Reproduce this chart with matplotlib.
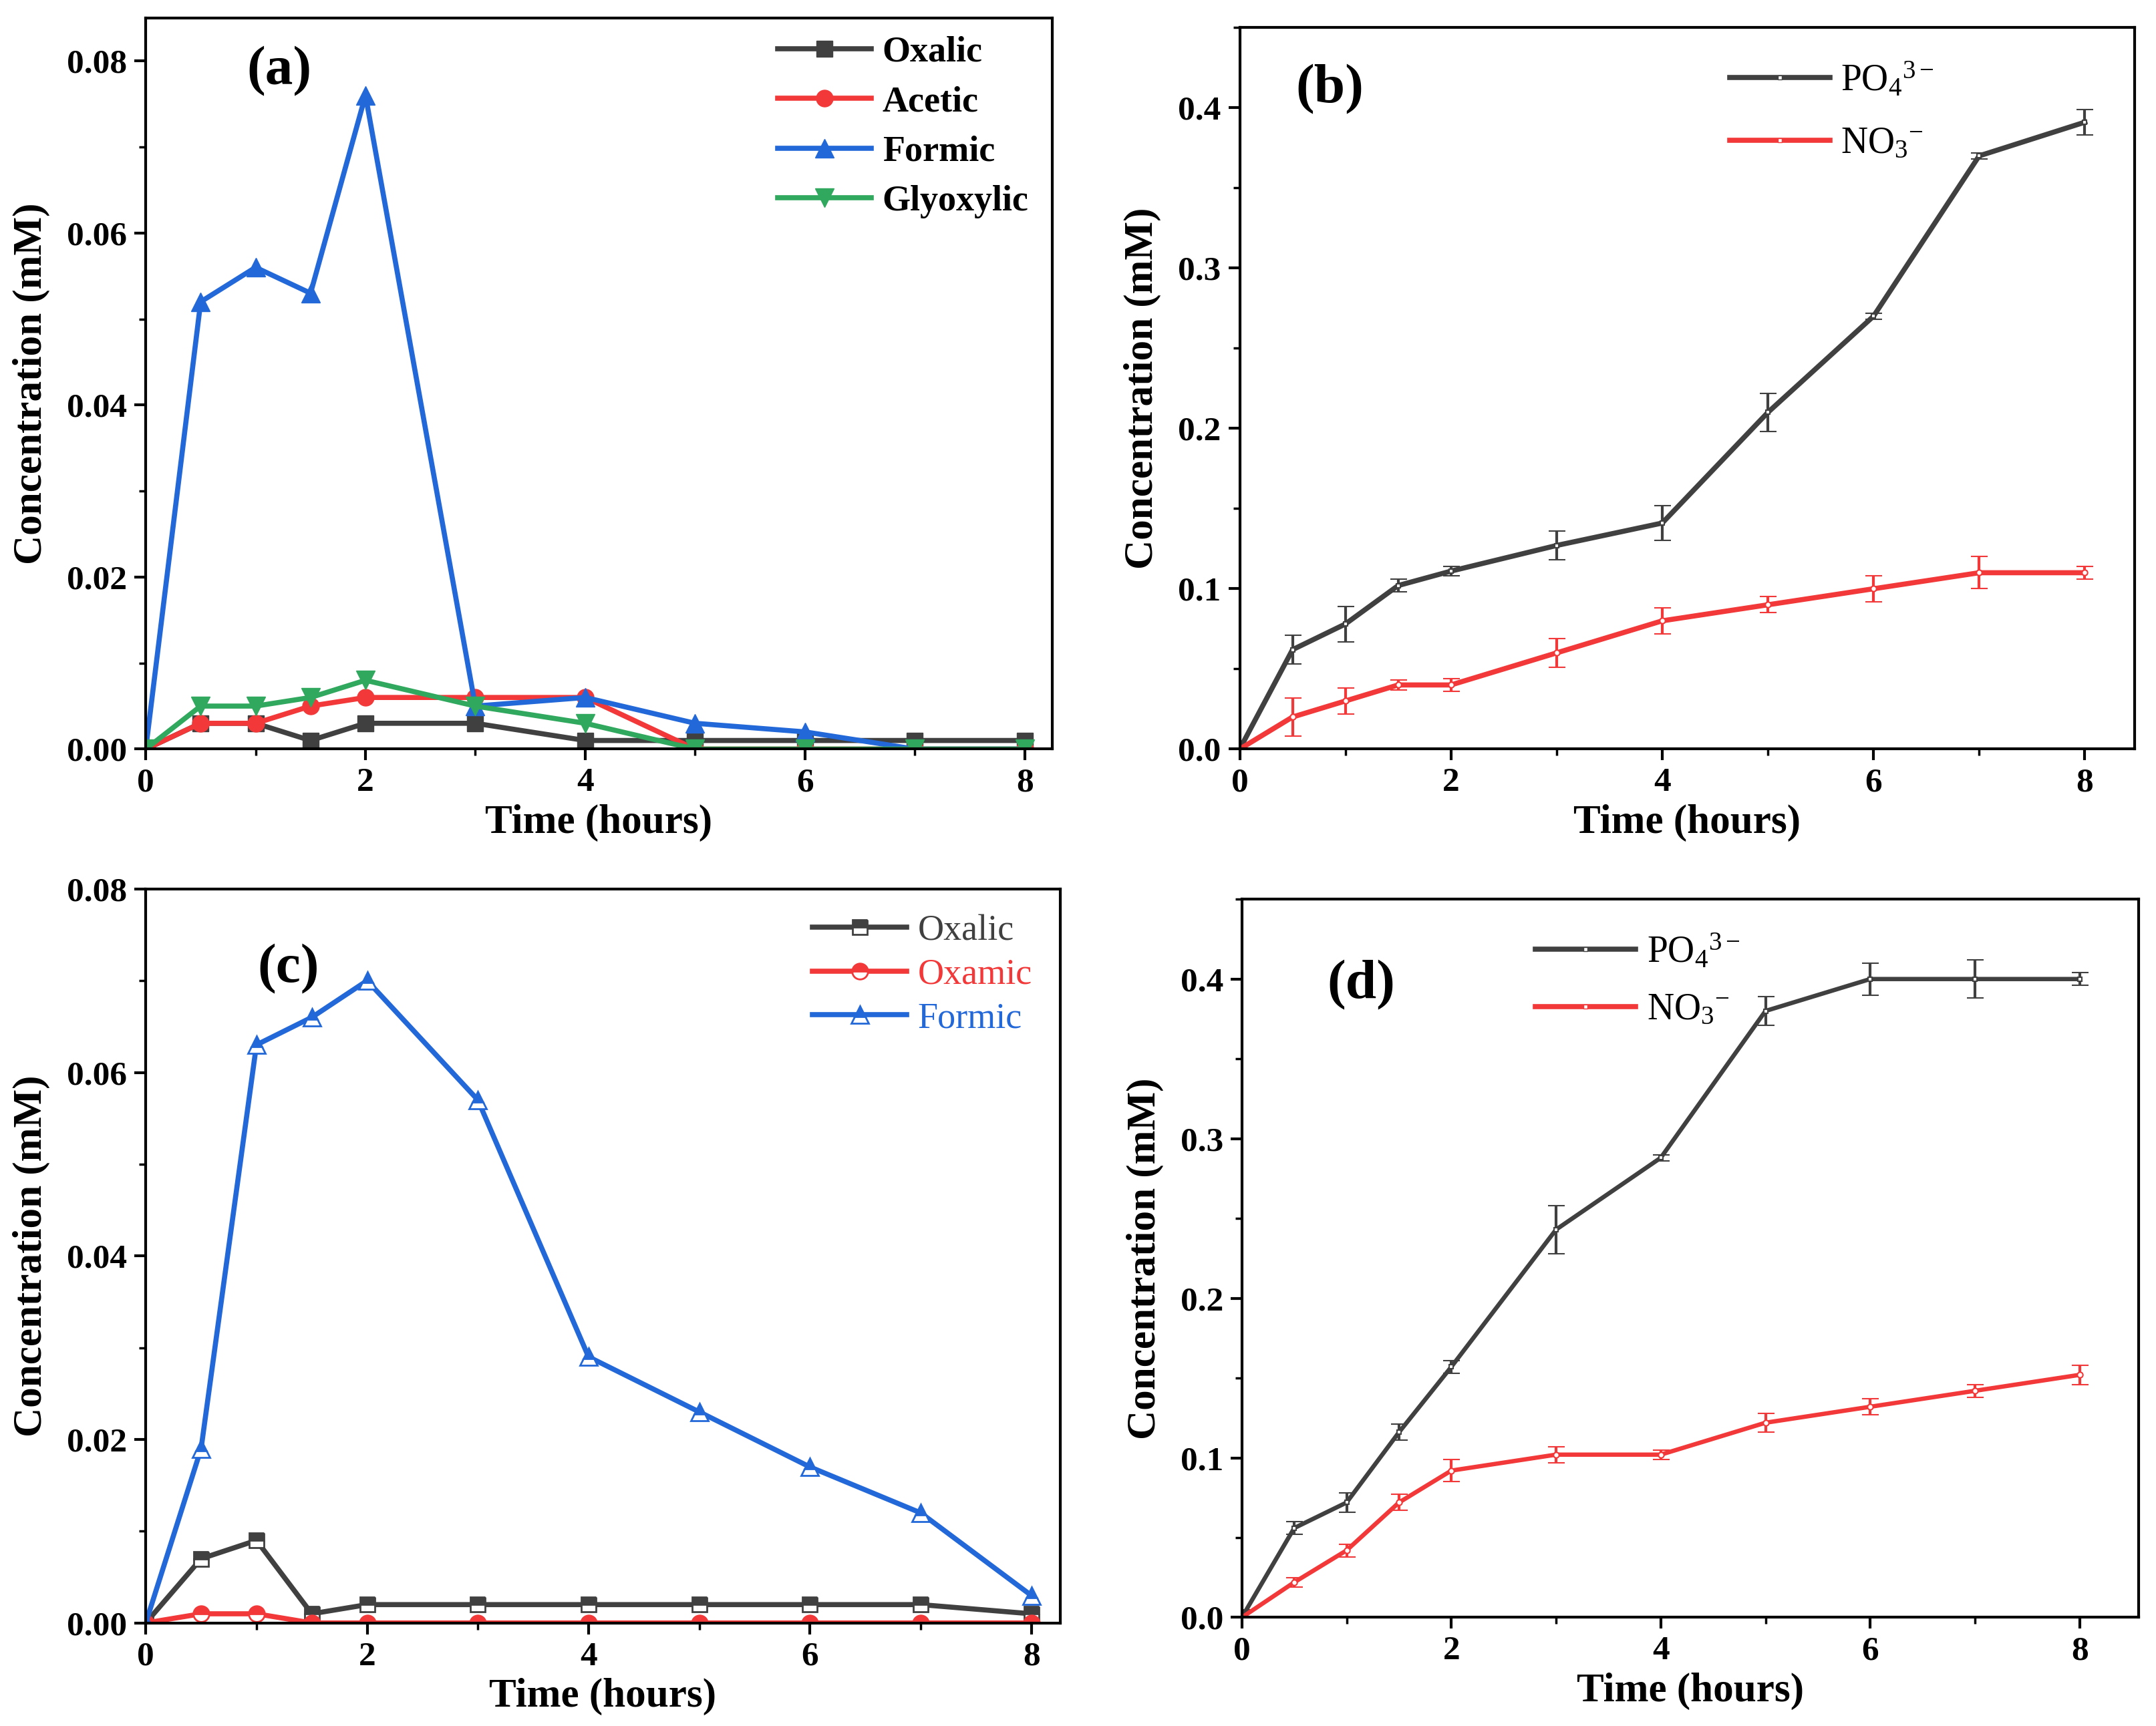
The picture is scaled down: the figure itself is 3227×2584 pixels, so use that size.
import matplotlib
matplotlib.use("Agg")
import matplotlib.pyplot as plt
from matplotlib.ticker import MultipleLocator
from matplotlib.lines import Line2D

plt.rcParams['font.family'] = ['Liberation Serif', 'DejaVu Serif']
plt.rcParams['mathtext.fontset'] = 'custom'
plt.rcParams['mathtext.rm'] = 'Liberation Serif'
plt.rcParams['mathtext.it'] = 'Liberation Serif:italic'
plt.rcParams['mathtext.bf'] = 'Liberation Serif:bold'

# ---- data ----
hours = [0, 0.5, 1, 1.5, 2, 3, 4, 5, 6, 7, 8]

# panel (a)
a_oxalic = [0, 0.003, 0.003, 0.001, 0.003, 0.003, 0.001, 0.001, 0.001, 0.001, 0.001]
a_acetic = [0, 0.003, 0.003, 0.005, 0.006, 0.006, 0.006, 0.0, 0.0, 0.0, 0.0]
a_formic = [0, 0.052, 0.056, 0.053, 0.076, 0.005, 0.006, 0.003, 0.002, 0.0, 0.0]
a_glyoxylic = [0, 0.005, 0.005, 0.006, 0.008, 0.005, 0.003, 0.0, 0.0, 0.0, 0.0]

# panel (b)
b_po4 = [0, 0.062, 0.078, 0.102, 0.111, 0.127, 0.141, 0.210, 0.270, 0.370, 0.391]
b_po4_err = [0, 0.009, 0.011, 0.004, 0.003, 0.009, 0.011, 0.012, 0.002, 0.002, 0.008]
b_no3 = [0, 0.020, 0.030, 0.040, 0.040, 0.060, 0.080, 0.090, 0.100, 0.110, 0.110]
b_no3_err = [0, 0.012, 0.008, 0.003, 0.004, 0.009, 0.008, 0.005, 0.008, 0.010, 0.004]

# panel (c)
c_oxalic = [0, 0.007, 0.009, 0.001, 0.002, 0.002, 0.002, 0.002, 0.002, 0.002, 0.001]
c_oxamic = [0, 0.001, 0.001, 0.0, 0.0, 0.0, 0.0, 0.0, 0.0, 0.0, 0.0]
c_formic = [0, 0.019, 0.063, 0.066, 0.070, 0.057, 0.029, 0.023, 0.017, 0.012, 0.003]

# panel (d)
d_po4 = [0, 0.056, 0.072, 0.116, 0.157, 0.243, 0.288, 0.380, 0.400, 0.400, 0.400]
d_po4_err = [0.005, 0.004, 0.006, 0.005, 0.004, 0.015, 0.002, 0.009, 0.010, 0.012, 0.004]
d_no3 = [0, 0.022, 0.042, 0.072, 0.092, 0.102, 0.102, 0.122, 0.132, 0.142, 0.152]
d_no3_err = [0, 0.003, 0.004, 0.005, 0.007, 0.005, 0.003, 0.006, 0.005, 0.004, 0.006]

ion_labels = [r'PO$_4$$^{3-}$', r'NO$_3$$^{-}$']

GRAY = '#404040'
RED = '#F23838'
BLUE = '#2368D8'
GREEN = '#30A85E'

LW = 5.5
TICK_FS = 37
LABEL_FS = 44
LEG_FS = 39
PANEL_FS = 60

fig = plt.figure(figsize=(32.27, 25.84), dpi=100)


def style_axes(ax, xmax, ymax, ymajor, yminor, yfmt):
    ax.set_xlim(0, xmax)
    ax.set_ylim(0, ymax)
    ax.xaxis.set_major_locator(MultipleLocator(2))
    ax.xaxis.set_minor_locator(MultipleLocator(1))
    ax.yaxis.set_major_locator(MultipleLocator(ymajor))
    ax.yaxis.set_minor_locator(MultipleLocator(yminor))
    ax.yaxis.set_major_formatter(plt.FormatStrFormatter(yfmt))
    ax.tick_params(which='major', direction='out', length=12, width=3,
                   labelsize=TICK_FS, pad=8)
    ax.tick_params(which='minor', direction='out', length=7, width=2.5)
    for lab in ax.get_xticklabels() + ax.get_yticklabels():
        lab.set_fontweight('bold')
    for sp in ax.spines.values():
        sp.set_linewidth(3)
    ax.set_xlabel("Time (hours)", fontsize=LABEL_FS, fontweight='bold', labelpad=6)
    ax.set_ylabel("Concentration (mM)", fontsize=LABEL_FS, fontweight='bold', labelpad=18)


def ion_legend(ax, anchor, spacing):
    handles = [Line2D([], [], color=c, lw=LW, marker='s', ms=5, mfc='white', mec=c)
               for c in (GRAY, RED)]
    ax.legend(handles, ion_labels, loc='upper left', bbox_to_anchor=anchor,
              frameon=False, handlelength=2.7, handletextpad=0.3,
              labelspacing=spacing, prop={'size': LEG_FS + 1})


# ---------- (a) ----------
ax_a = fig.add_axes([0.0676, 0.566, 0.4204, 0.4236])
ax_a.plot(hours, a_oxalic, color=GRAY, lw=LW, marker='s', ms=17, label='Oxalic')
ax_a.plot(hours, a_acetic, color=RED, lw=LW, marker='o', ms=18, label='Acetic')
ax_a.plot(hours, a_formic, color=BLUE, lw=LW, marker='^', ms=20, label='Formic')
ax_a.plot(hours, a_glyoxylic, color=GREEN, lw=LW, marker='v', ms=20, label='Glyoxylic')
style_axes(ax_a, 8.25, 0.085, 0.02, 0.01, '%.2f')
ax_a.legend(loc='upper right', bbox_to_anchor=(1.01, 1.02), frameon=False,
            handlelength=2.6, handletextpad=0.3, labelspacing=0.45,
            prop={'size': LEG_FS, 'weight': 'bold'})
ax_a.text(0.147, 0.927, "(a)", transform=ax_a.transAxes, fontsize=PANEL_FS,
          fontweight='bold', ha='center', va='center')

# ---------- (b) ----------
ax_b = fig.add_axes([0.575, 0.566, 0.415, 0.418])
ax_b.errorbar(hours, b_po4, yerr=b_po4_err, color=GRAY, lw=LW, marker='s', ms=5,
              mfc='white', mec=GRAY, mew=1.5, ecolor=GRAY, elinewidth=3,
              capsize=9, capthick=3)
ax_b.errorbar(hours, b_no3, yerr=b_no3_err, color=RED, lw=LW, marker='o', ms=6,
              mfc='white', mec=RED, mew=1.5, ecolor=RED, elinewidth=3,
              capsize=9, capthick=3)
style_axes(ax_b, 8.47, 0.45, 0.1, 0.05, '%.1f')
ion_legend(ax_b, (0.51, 1.0), 0.75)
ax_b.text(0.101, 0.914, "(b)", transform=ax_b.transAxes, fontsize=PANEL_FS,
          fontweight='bold', ha='center', va='center')

# ---------- (c) ----------
ax_c = fig.add_axes([0.0676, 0.0597, 0.4241, 0.4253])
ax_c.plot(hours, c_oxalic, color=GRAY, lw=LW, marker='s', ms=16, fillstyle='top',
          mfc=GRAY, mfcalt='white', mec=GRAY, mew=2, label='Oxalic')
ax_c.plot(hours, c_oxamic, color=RED, lw=LW, marker='o', ms=17, fillstyle='top',
          mfc=RED, mfcalt='white', mec=RED, mew=2, label='Oxamic')
ax_c.plot(hours, c_formic, color=BLUE, lw=LW, marker='^', ms=19, fillstyle='top',
          mfc=BLUE, mfcalt='white', mec=BLUE, mew=2, label='Formic')
style_axes(ax_c, 8.26, 0.08, 0.02, 0.01, '%.2f')
leg_c = ax_c.legend(loc='upper right', bbox_to_anchor=(1.005, 1.01), frameon=False,
                    handlelength=2.6, handletextpad=0.3, labelspacing=0.28,
                    prop={'size': LEG_FS})
for txt, col in zip(leg_c.get_texts(), [GRAY, RED, BLUE]):
    txt.set_color(col)
ax_c.text(0.156, 0.891, "(c)", transform=ax_c.transAxes, fontsize=PANEL_FS,
          fontweight='bold', ha='center', va='center')

# ---------- (d) ----------
ax_d = fig.add_axes([0.576, 0.0629, 0.4158, 0.4161])
ax_d.errorbar(hours, d_po4, yerr=d_po4_err, color=GRAY, lw=LW * 0.85, marker='s', ms=5,
              mfc='white', mec=GRAY, mew=1.5, ecolor=GRAY, elinewidth=3,
              capsize=9, capthick=3)
ax_d.errorbar(hours, d_no3, yerr=d_no3_err, color=RED, lw=LW * 0.85, marker='o', ms=6,
              mfc='white', mec=RED, mew=1.5, ecolor=RED, elinewidth=3,
              capsize=9, capthick=3)
style_axes(ax_d, 8.56, 0.45, 0.1, 0.05, '%.1f')
ion_legend(ax_d, (0.29, 1.0), 0.6)
ax_d.text(0.133, 0.880, "(d)", transform=ax_d.transAxes, fontsize=PANEL_FS,
          fontweight='bold', ha='center', va='center')

fig.savefig("out.png", dpi=100)
